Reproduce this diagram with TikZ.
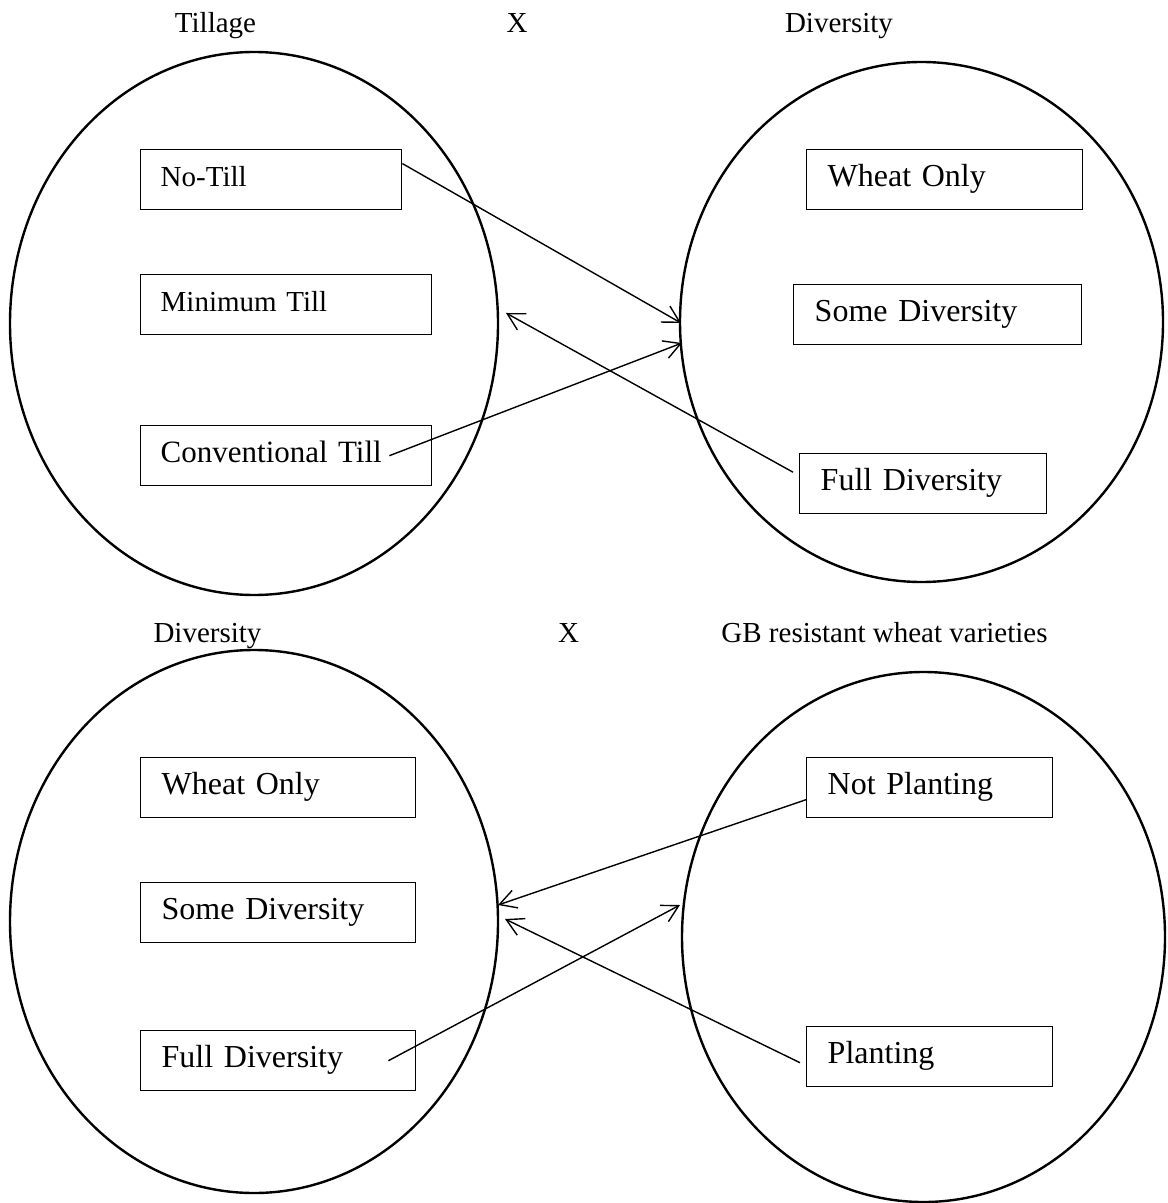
\documentclass[tikz,border=0pt]{standalone}
\usepackage{fontspec}
\setmainfont{Liberation Serif}
\usetikzlibrary{arrows.meta}
\tikzset{
  every picture/.style={
    x=0.5pt, y=-0.5pt,
    >={Straight Barb[length=8.3pt, width=9.2pt]}
  },
  choice/.style={
    draw, line width=0.7pt, anchor=north west,
    minimum height=30pt, inner xsep=10.5pt, align=left,
    text height=0.66em, text depth=0pt,
    font=\fontsize{16}{19}\selectfont
  },
  heading/.style={
    anchor=base, inner sep=0pt,
    font=\fontsize{14.5}{17}\selectfont
  }
}

\begin{document}
\begin{tikzpicture}[
    set/.style={line width=1.2pt},
    link/.style={->, line width=0.7pt},
    small/.style={inner xsep=10pt, font=\fontsize{14.5}{17}\selectfont}
  ]
  \useasboundingbox (0,0) rectangle (1167,1203);
  \node [heading] (tillT) at (215.5,33) {Tillage};
  \node [heading] (crossA) at (517,33) {X};
  \node [heading] (divT) at (839,33) {Diversity};
  \node [heading] (divB) at (207.5,642) {Diversity};
  \node [heading] (crossB) at (568.5,642) {X};
  \node [heading] (gbT) at (884.5,642) {GB resistant wheat varieties};

  \draw [set] (254,323.5) ellipse [x radius=122pt, y radius=135.75pt];
  \draw [set] (921.5,322) ellipse [x radius=120.75pt, y radius=130pt];
  \draw [set] (254,921.5) ellipse [x radius=122pt, y radius=135.75pt];
  \draw [set] (923.5,937) ellipse [x radius=120.75pt, y radius=132.5pt];

  \node [choice, small, text width=110.5pt] (noTill) at (140,149) {No-Till};
  \node [choice, small, text width=125.5pt] (minTill) at (140,274) {Minimum Till};
  \node [choice, small, text width=125.5pt, font=\fontsize{15.5}{18}\selectfont] (convTill) at (140,425) {Conventional Till};
  \node [choice, text width=117pt] (wheatA) at (806,149) {Wheat Only};
  \node [choice, text width=123pt] (someA) at (793,284) {Some Diversity};
  \node [choice, text width=102.5pt] (fullA) at (799,453) {Full Diversity};

  \node [choice, text width=116.5pt] (wheatB) at (140,757) {Wheat Only};
  \node [choice, text width=116.5pt] (someB) at (140,882) {Some Diversity};
  \node [choice, text width=116.5pt] (fullB) at (140,1030) {Full Diversity};
  \node [choice, text width=102pt] (notPlant) at (806,757) {Not Planting};
  \node [choice, text width=102pt] (plant) at (806,1026) {Planting};

  \coordinate (tipA1) at (681,323);
  \coordinate (tipA2) at (682,343);
  \coordinate (tipA3) at (506,313);
  \coordinate (tipB1) at (498,905);
  \coordinate (tipB2) at (680,905);
  \coordinate (tipB3) at (505,919);

  \draw [link] (noTill.7) -- (tipA1);
  \draw [link] ([xshift=-21.5pt]convTill.east) -- (tipA2);
  \draw [link] ([shift={(-3pt,5.75pt)}]fullA.west) -- (tipA3);
  \draw [link] ([yshift=-6pt]notPlant.west) -- (tipB1);
  \draw [link] ([xshift=-14pt]fullB.east) -- (tipB2);
  \draw [link] ([shift={(-3pt,-3pt)}]plant.west) -- (tipB3);
\end{tikzpicture}
\end{document}
